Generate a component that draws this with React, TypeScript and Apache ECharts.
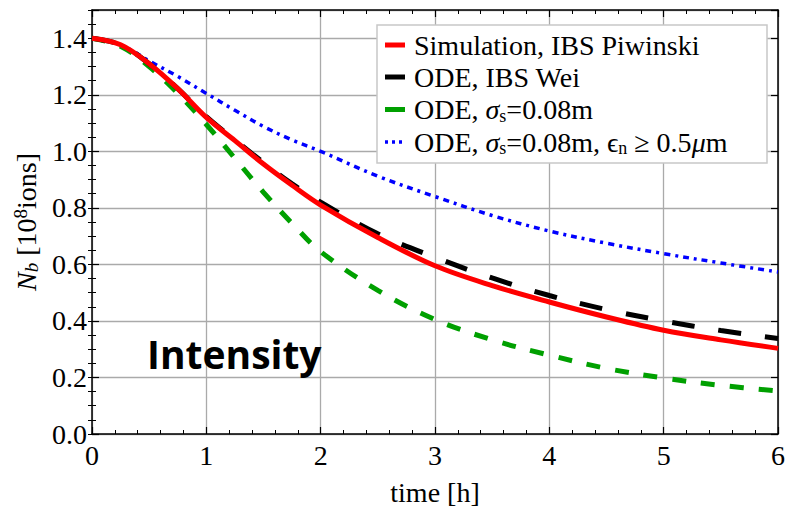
import React, { useEffect, useRef } from "react";
import * as echarts from "echarts";

// time [h]
const times = [0, 0.25, 0.5, 0.75, 1, 1.25, 1.5, 1.75, 2, 2.5, 3, 3.5, 4, 4.5, 5, 5.5, 6];
// N_b [1e8 ions]
const simPiwinski = [1.4, 1.377, 1.31, 1.222, 1.12, 1.038, 0.955, 0.88, 0.81, 0.695, 0.595, 0.525, 0.467, 0.414, 0.367, 0.333, 0.303];
const odeWei = [1.4, 1.377, 1.31, 1.222, 1.123, 1.04, 0.96, 0.885, 0.82, 0.708, 0.625, 0.552, 0.49, 0.44, 0.4, 0.366, 0.338];
const odeSigma = [1.4, 1.372, 1.3, 1.205, 1.095, 0.975, 0.855, 0.745, 0.645, 0.508, 0.405, 0.333, 0.279, 0.232, 0.198, 0.172, 0.152];
const odeSigmaEps = [1.4, 1.377, 1.32, 1.265, 1.205, 1.145, 1.088, 1.04, 1.0, 0.912, 0.84, 0.773, 0.718, 0.675, 0.638, 0.605, 0.573];

const seriesNames = [
  "Simulation, IBS Piwinski",
  "ODE, IBS Wei",
  "ODE, σs=0.08m",
  "ODE, σs=0.08m, ϵn ≥ 0.5μm",
];
const legendRich = [
  "{n|Simulation, IBS Piwinski}",
  "{n|ODE, IBS Wei}",
  "{n|ODE, }{it|σ}{sub|s}{n|=0.08m}",
  "{n|ODE, }{it|σ}{sub|s}{n|=0.08m, ϵ}{sub|n}{n| ≥ 0.5}{it|μ}{n|m}",
];
const xTicks = [0, 6, 1];
const yTicks = [0, 1.5, 0.2];

const serif = "serif";

const pairs = (ys: number[]) => times.map((t, i) => [t, ys[i]]);

export default function App() {
  const ref = useRef<HTMLDivElement>(null);
  useEffect(() => {
    if (!ref.current) return;
    const chart = echarts.init(ref.current, undefined, { renderer: "svg" });
    const black = "#000";
    const axisLine = { show: true, onZero: false, lineStyle: { color: black, width: 1.5 } };
    const majorTick = { show: true, inside: true, length: 7, lineStyle: { color: black, width: 1.2 } };
    const minorTickOnly = { show: true, inside: true, length: 4, lineStyle: { color: black, width: 1 } };
    const grid = { show: true, lineStyle: { color: "#aaaaaa", width: 1.3 } };
    const mkRich = () => ({
      n: { fontFamily: serif, fontSize: 28, fill: black, color: black, lineHeight: 30 },
      it: { fontFamily: serif, fontSize: 28, fontStyle: "italic", fill: black, color: black, lineHeight: 30 },
      sub: { fontFamily: serif, fontSize: 18, fill: black, color: black, verticalAlign: "bottom", lineHeight: 30 },
    });
    const lineSeries = [
      { data: simPiwinski, color: "#ff0000", type: "solid", width: 5 },
      { data: odeWei, color: "#000000", type: [23, 24], width: 5 },
      { data: odeSigma, color: "#00a000", type: [14, 15], width: 5 },
      { data: odeSigmaEps, color: "#0000ff", type: [3, 5, 6, 5], width: 3.5 },
    ];
    const rowY = [45, 77, 109.5, 142];
    const legendGraphics: any[] = [
      {
        type: "rect",
        shape: { x: 377, y: 25, width: 390, height: 138 },
        style: { fill: "#fff", stroke: "#c8c8c8", lineWidth: 1.5 },
        z: 100,
      },
    ];
    lineSeries.forEach((s, i) => {
      const dotted = i === 3;
      legendGraphics.push({
        type: "line",
        shape: { x1: 385, y1: rowY[i], x2: 405, y2: rowY[i] },
        style: { stroke: s.color, lineWidth: dotted ? 3.5 : 5, lineDash: dotted ? [3, 4] : null },
        z: 101,
      });
      legendGraphics.push({
        type: "text",
        x: 414,
        y: rowY[i],
        style: {
          text: legendRich[i],
          rich: mkRich(),
          fontFamily: serif,
          fontSize: 28,
          fill: black,
          verticalAlign: "middle",
        },
        z: 101,
      });
    });
    chart.setOption({
      animation: false,
      textStyle: { fontFamily: serif },
      title: {
        text: "Intensity",
        left: 147,
        top: 334,
        padding: 0,
        textStyle: { fontFamily: "Open Sans", fontWeight: "bold", fontSize: 39, color: "#000" },
      },
      grid: { left: 92, right: 8, top: 10, bottom: 75, containLabel: false },
      xAxis: [
        {
          type: "value",
          min: xTicks[0],
          max: xTicks[1],
          interval: xTicks[2],
          position: "bottom",
          axisLine,
          axisTick: majorTick,
          minorTick: { show: true, splitNumber: 5, length: 4, lineStyle: { color: black, width: 1 } },
          splitLine: grid,
          axisLabel: { fontFamily: serif, fontSize: 28, color: black, margin: 7 },
          name: "time [h]",
          nameLocation: "middle",
          nameGap: 44,
          nameTextStyle: { fontFamily: serif, fontSize: 28, color: black },
        },
        {
          type: "value",
          min: xTicks[0],
          max: xTicks[1],
          interval: xTicks[2],
          position: "top",
          axisLine,
          axisTick: majorTick,
          minorTick: { show: true, splitNumber: 5, length: 4, lineStyle: { color: black, width: 1 } },
          splitLine: { show: false },
          axisLabel: { show: false },
        },
      ],
      yAxis: [
        {
          type: "value",
          min: yTicks[0],
          max: yTicks[1],
          interval: yTicks[2],
          position: "left",
          axisLine,
          axisTick: majorTick,
          splitLine: grid,
          axisLabel: {
            fontFamily: serif,
            fontSize: 28,
            color: black,
            margin: 5,
            formatter: (v: number) => (v > 1.45 ? "" : v.toFixed(1)),
          },
          name: "{it|N}{sub|b}{n| [10}{sup|8}{n|ions]}",
          nameLocation: "middle",
          nameRotate: 90,
          nameGap: 50,
          nameTextStyle: {
            fontFamily: serif,
            rich: {
              n: { fontFamily: serif, fontSize: 28, color: black, lineHeight: 30 },
              it: { fontFamily: serif, fontSize: 28, fontStyle: "italic", color: black, lineHeight: 30 },
              sub: { fontFamily: serif, fontSize: 19, fontStyle: "italic", color: black, verticalAlign: "bottom", lineHeight: 30 },
              sup: { fontFamily: serif, fontSize: 19, color: black, verticalAlign: "top", lineHeight: 30 },
            },
          },
        },
        {
          type: "value",
          min: yTicks[0],
          max: yTicks[1],
          interval: 0.05,
          position: "left",
          axisLine: { show: false },
          axisTick: minorTickOnly,
          splitLine: { show: false },
          axisLabel: { show: false },
        },
        {
          type: "value",
          min: yTicks[0],
          max: yTicks[1],
          interval: yTicks[2],
          position: "right",
          axisLine,
          axisTick: majorTick,
          splitLine: { show: false },
          axisLabel: { show: false },
        },
        {
          type: "value",
          min: yTicks[0],
          max: yTicks[1],
          interval: 0.05,
          position: "right",
          axisLine: { show: false },
          axisTick: minorTickOnly,
          splitLine: { show: false },
          axisLabel: { show: false },
        },
      ],
      graphic: legendGraphics,
      series: lineSeries.map((s, i) => ({
        name: seriesNames[i],
        type: "line",
        xAxisIndex: 0,
        yAxisIndex: 0,
        smooth: 0.35,
        symbol: "none",
        data: pairs(s.data),
        color: s.color,
        itemStyle: { color: s.color },
        lineStyle: { color: s.color, width: s.width, type: s.type as any, cap: "butt" },
        z: 10 - i,
      })),
    });
    return () => chart.dispose();
  }, []);
  return (
    <div
      ref={ref}
      style={{ position: "fixed", left: 0, top: 0, width: 788, height: 511, background: "#fff" }}
    />
  );
}
